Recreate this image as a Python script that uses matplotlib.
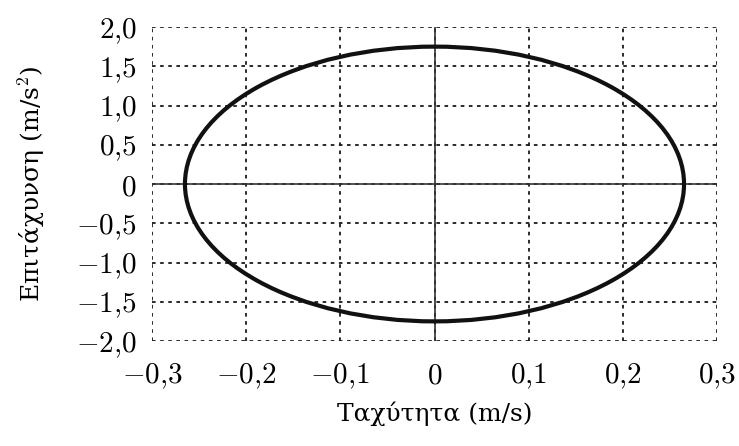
import matplotlib
matplotlib.use("Agg")
import matplotlib.pyplot as plt
from matplotlib.patches import Ellipse

# Data
v_max = 0.265   # velocity amplitude (m/s)
a_max = 1.75    # acceleration amplitude (m/s^2)
x_ticks = [-0.3, -0.2, -0.1, 0, 0.1, 0.2, 0.3]
x_labels = [r"$-0{,}3$", r"$-0{,}2$", r"$-0{,}1$", r"$0$", r"$0{,}1$", r"$0{,}2$", r"$0{,}3$"]
y_ticks = [-2.0, -1.5, -1.0, -0.5, 0, 0.5, 1.0, 1.5, 2.0]
y_labels = [r"$-2{,}0$", r"$-1{,}5$", r"$-1{,}0$", r"$-0{,}5$", r"$0$", r"$0{,}5$", r"$1{,}0$", r"$1{,}5$", r"$2{,}0$"]

plt.rcParams['mathtext.fontset'] = 'cm'

fig = plt.figure(figsize=(7.39, 4.46), dpi=100)
ax = fig.add_axes([152/739, 1 - 341/446, (717-152)/739, (341-27)/446])

ax.set_xlim(-0.3, 0.3)
ax.set_ylim(-2.0, 2.0)
for s in ax.spines.values():
    s.set_visible(False)

ax.set_xticks(x_ticks)
ax.set_xticklabels(x_labels, fontsize=21)
ax.set_yticks(y_ticks)
ax.set_yticklabels(y_labels, fontsize=21)
ax.tick_params(axis='x', length=0, pad=15)
ax.tick_params(axis='y', length=0, pad=11)

ax.grid(True, linestyle=(0, (2, 2.5)), color='#1a1a1a', linewidth=1.3)
ax.axhline(0, color='#333333', linewidth=1.2, zorder=2)
ax.axvline(0, color='#333333', linewidth=1.2, zorder=2)

ell = Ellipse((0, 0), 2 * v_max, 2 * a_max, fill=False, edgecolor='#111111', linewidth=3, zorder=3)
ax.add_patch(ell)

ax.set_xlabel("Ταχύτητα (m/s)", fontsize=18, family='DejaVu Serif', labelpad=7)
ax.set_ylabel("Επιτάχυνση (m/s$^2$)", fontsize=18, family='DejaVu Serif')
ax.yaxis.set_label_coords(-0.186, 0.5)

fig.savefig("out.png", dpi=100)
